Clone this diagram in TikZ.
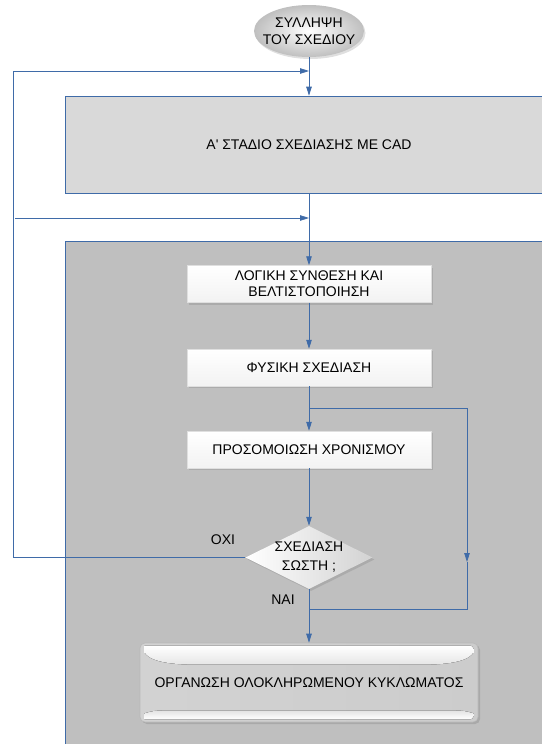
\documentclass[tikz,border=0pt]{standalone}
\usepackage{fontspec}
\setmainfont{Liberation Sans}
\usetikzlibrary{positioning, arrows.meta, calc, shapes.geometric, shadows}

\definecolor{linkblue}{HTML}{3F6BA8}
\definecolor{stagegrayA}{HTML}{D9D9D9}
\definecolor{stagegrayB}{HTML}{BFBFBF}

\begin{document}
\begin{tikzpicture}[
    x=1pt, y=-1pt,
    >={Triangle[length=9pt, width=5.5pt]},
    node distance=83.5pt,
    on grid,
    font=\fontsize{14pt}{17pt}\selectfont,
    conn/.style={color=linkblue, line width=0.8pt},
    stagebox/.style={draw=linkblue, line width=0.6pt, minimum width=488pt, inner sep=0pt},
    stepbox/.style={draw=gray!25, minimum width=244pt, minimum height=37pt, inner sep=0pt, align=center,
        font=\fontsize{14pt}{16pt}\selectfont,
        top color=white, bottom color=gray!10,
        drop shadow={shadow xshift=2pt, shadow yshift=-2pt, opacity=0.3}},
    decision/.style={diamond, minimum width=127pt, minimum height=63pt, inner sep=0pt,
        left color=white, right color=gray!35,
        drop shadow={shadow xshift=2pt, shadow yshift=-2pt, opacity=0.3}},
    finalbox/.style={draw=gray!55, line width=0.6pt, rounded corners=5pt, minimum width=338pt, minimum height=79pt,
        inner sep=0pt, left color=gray!35, middle color=gray!18, right color=gray!40,
        drop shadow={shadow xshift=2pt, shadow yshift=-2pt, opacity=0.35}},
    answer/.style={inner sep=1pt}
]
\useasboundingbox (0,0) rectangle (541,744);

% -------------------------
% STAGES
% -------------------------
\node[ellipse, minimum width=110pt, minimum height=52pt, inner sep=0pt,
      inner color=white, outer color=gray!50,
      drop shadow={shadow xshift=1.5pt, shadow yshift=-2pt, opacity=0.25},
      label={[align=center]center:{ΣΥΛΛΗΨΗ\\ΤΟΥ ΣΧΕΔΙΟΥ}}] (concept) at (309,31) {};

\node[stagebox, fill=stagegrayA, minimum height=97pt] (stageA) at (309,144.5) {Α\textquotesingle{} ΣΤΑΔΙΟ ΣΧΕΔΙΑΣΗΣ ΜΕ CAD};

\node[stagebox, fill=stagegrayB, minimum height=520pt, anchor=north] (stageB) at (309,241) {};

% -------------------------
% INNER FLOW
% -------------------------
\node[stepbox] (logic) at (309,284) {ΛΟΓΙΚΗ ΣΥΝΘΕΣΗ ΚΑΙ\\ΒΕΛΤΙΣΤΟΠΟΙΗΣΗ};

\node[stepbox] (physical) [below=of logic] {ΦΥΣΙΚΗ ΣΧΕΔΙΑΣΗ};

\node[stepbox] (timing) [below=82pt of physical] {ΠΡΟΣΟΜΟΙΩΣΗ ΧΡΟΝΙΣΜΟΥ};

\node[decision, label={[align=center, font=\fontsize{14pt}{19pt}\selectfont]center:{ΣΧΕΔΙΑΣΗ\\ΣΩΣΤΗ ;}}] (check) [below=108pt of timing] {};

\node[finalbox] (final) [below=125pt of check] {ΟΡΓΑΝΩΣΗ ΟΛΟΚΛΗΡΩΜΕΝΟΥ ΚΥΚΛΩΜΑΤΟΣ};

% glossy bands
\fill[top color=white, bottom color=gray!20, rounded corners=3pt]
    ([shift={(5,3)}]final.north west) -- ([shift={(-5,3)}]final.north east)
    [sharp corners] -- ([shift={(-5,10)}]final.north east)
    .. controls ([shift={(-12,21)}]final.north east) and ([shift={(-40,22)}]final.north east) .. ([shift={(-60,22)}]final.north east)
    -- ([shift={(60,22)}]final.north west)
    .. controls ([shift={(40,22)}]final.north west) and ([shift={(12,21)}]final.north west) .. ([shift={(5,10)}]final.north west)
    -- cycle;
\fill[top color=gray!22, bottom color=white, rounded corners=3pt]
    ([shift={(5,-3)}]final.south west) -- ([shift={(-5,-3)}]final.south east)
    [sharp corners] -- ([shift={(-5,-9)}]final.south east)
    .. controls ([shift={(-15,-12)}]final.south east) .. ([shift={(-50,-12)}]final.south east)
    -- ([shift={(50,-12)}]final.south west)
    .. controls ([shift={(15,-12)}]final.south west) .. ([shift={(5,-9)}]final.south west)
    -- cycle;

\node[answer] (no) at (223,540) {ΟΧΙ};
\node[answer] (yes) at (283,600) {ΝΑΙ};

% -------------------------
% CONNECTORS
% -------------------------
\coordinate (topjoin) at (309,71);
\coordinate (loopleft) at (13,71);
\coordinate (entry) at (15,218);
\coordinate (midjoin) at (309,218);
\coordinate (split) at (309,408);
\coordinate (retarrow) at (467,562);
\coordinate (merge) at (309,609);

% main flow
\path[conn, ->]
(concept) edge (stageA)
(stageA) edge (logic)
(logic) edge (physical)
(physical) edge (timing)
(timing) edge (check)
(check) edge (final);

% loops
\draw[conn, ->] (check.west) -| (loopleft) -- (topjoin);
\draw[conn, ->] (entry) -- (midjoin);
\draw[conn, ->] (split) -| (retarrow);
\draw[conn] (retarrow) |- (merge);

\end{tikzpicture}
\end{document}
